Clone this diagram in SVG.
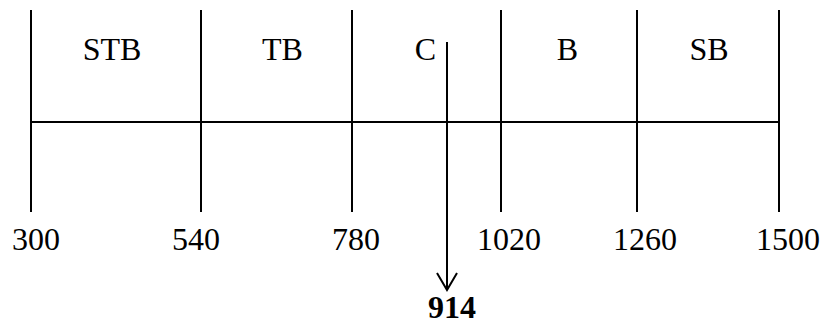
<svg xmlns="http://www.w3.org/2000/svg" width="822" height="325" viewBox="0 0 822 325">
<style>
.ln{stroke:#000;stroke-width:2;fill:none}
.t{font-family:"Liberation Serif","Times New Roman",serif;font-size:32px;fill:#000;text-anchor:middle}
.b{font-weight:bold}
</style>
<rect width="822" height="325" fill="#fff"/>
<g id="axis">
<line class="ln" x1="31" y1="10" x2="31" y2="212"/>
<line class="ln" x1="31" y1="122" x2="779" y2="122"/>
<line class="ln" x1="201" y1="10" x2="201" y2="212"/>
<line class="ln" x1="352" y1="10" x2="352" y2="212"/>
<line class="ln" x1="501" y1="10" x2="501" y2="212"/>
<line class="ln" x1="637" y1="10" x2="637" y2="212"/>
<line class="ln" x1="779" y1="10" x2="779" y2="212"/>
</g>
<g id="zones">
<text class="t" x="112" y="60">STB</text>
<text class="t" x="282.5" y="60">TB</text>
<text class="t" x="425.5" y="60">C</text>
<text class="t" x="567.5" y="60">B</text>
<text class="t" x="709" y="60">SB</text>
</g>
<g id="ticks">
<text class="t" x="36" y="250">300</text>
<text class="t" x="196" y="250">540</text>
<text class="t" x="356" y="250">780</text>
<text class="t" x="509" y="250">1020</text>
<text class="t" x="645" y="250">1260</text>
<text class="t" x="788" y="250">1500</text>
</g>
<g id="connectors">
<line class="ln" x1="447" y1="42" x2="447" y2="290"/>
<polyline class="ln" points="437,273 447,290 457,273" stroke-width="1.5"/>
</g>
<g id="marker914">
<text class="t b" x="452" y="318">914</text>
</g>
</svg>
